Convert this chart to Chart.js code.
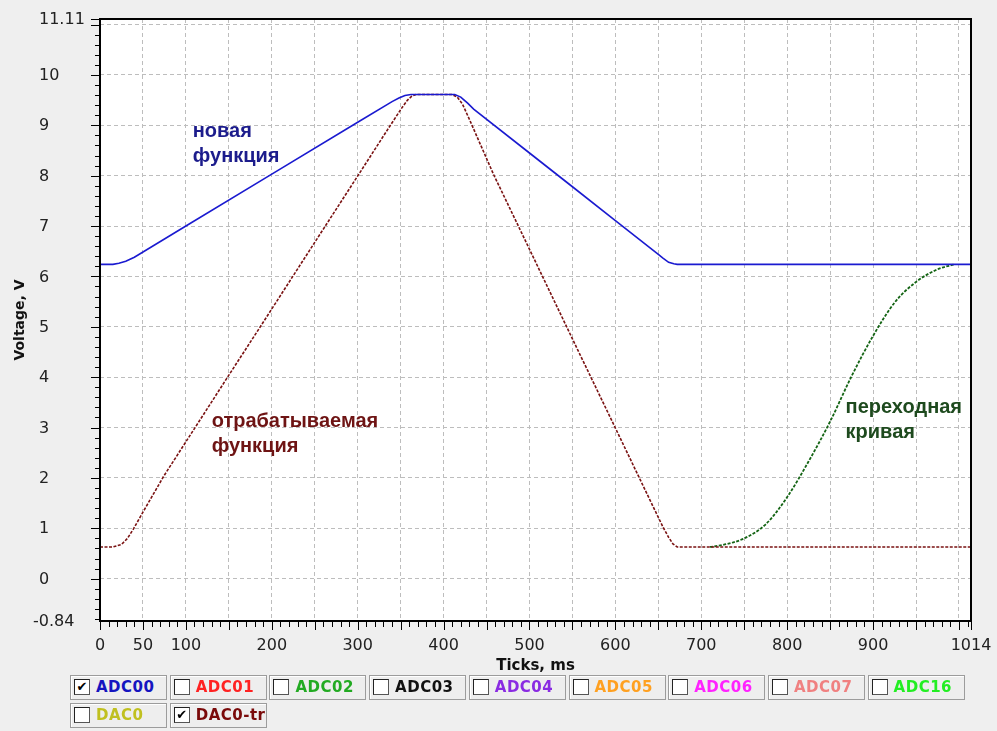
<!DOCTYPE html>
<html lang="ru">
<head>
<meta charset="UTF-8">
<title>Ticks / Voltage</title>
<script src="https://cdn.jsdelivr.net/npm/chart.js"></script>
<style>
    body {
        margin: 0;
        background-color: #efefef;
        font-family: "DejaVu Sans", sans-serif;
    }
    .chart-box {
        position: absolute;
        left: 0;
        top: 0;
        width: 997px;
        height: 680px;
    }
    .legend {
        position: absolute;
        left: 70px;
        top: 675px;
        width: 910px;
    }
    .legend-item {
        position: absolute;
        width: 95px;
        height: 23px;
        border: 1px solid #9c9c9c;
        box-shadow: inset 1px 1px 0 #ffffff;
        background-color: #eeeeee;
        font-weight: bold;
        font-size: 15px;
        line-height: 23px;
        letter-spacing: 0.5px;
        box-sizing: content-box;
    }
    .legend-item .box {
        position: absolute;
        left: 3px;
        top: 3px;
        width: 14px;
        height: 14px;
        background: #fff;
        border: 1px solid #555;
        border-top-color: #222;
        border-left-color: #222;
        font-size: 13px;
        line-height: 14px;
        text-align: center;
        color: #000;
        letter-spacing: 0;
    }
    .legend-item .txt {
        position: absolute;
        left: 25px;
        top: 0;
    }
</style>
</head>
<body>
<div class="chart-box"><canvas id="chart" width="997" height="680"></canvas></div>
<div class="legend" id="legend"></div>

<script>
// --- data (ms, V) ---
const newFuncT = [0, 15, 22, 30, 40, 100, 200, 300, 340, 348, 355, 362, 413, 420, 428, 435, 500, 550, 600, 650, 655, 662, 668, 672, 1014];
const newFuncV = [6.24, 6.24, 6.26, 6.30, 6.38, 7.00, 8.03, 9.06, 9.47, 9.54, 9.59, 9.61, 9.61, 9.56, 9.44, 9.32, 8.45, 7.78, 7.11, 6.44, 6.37, 6.28, 6.25, 6.24, 6.24];

const workFuncT = [0, 15, 25, 32, 39, 50, 74, 116, 150, 190, 221, 260, 301, 335, 345, 352, 358, 363, 368, 410, 416, 422, 430, 458, 489, 550, 600, 640, 655, 662, 667, 672, 1014];
const workFuncV = [0.63, 0.63, 0.68, 0.80, 0.99, 1.32, 2.03, 3.14, 4.04, 5.09, 5.91, 6.94, 8.02, 8.92, 9.18, 9.36, 9.50, 9.58, 9.61, 9.61, 9.56, 9.42, 9.12, 8.03, 6.93, 4.76, 2.99, 1.57, 1.04, 0.82, 0.69, 0.63, 0.63];

const stepT = [710, 725, 750, 775, 800, 825, 850, 875, 900, 925, 950, 975, 995];
const stepV = [0.63, 0.67, 0.80, 1.08, 1.62, 2.33, 3.12, 4.02, 4.82, 5.48, 5.89, 6.14, 6.24];

// axis ticks
const xMin = 0, xMax = 1014;
const yMin = -0.84, yMax = 11.11;
const xGridStep = 50;
const xLabels = [0, 50, 100, 200, 300, 400, 500, 600, 700, 800, 900, 1014];
const yLabels = [-0.84, 0, 1, 2, 3, 4, 5, 6, 7, 8, 9, 10, 11.11];

// legend
const legendNames = ['ADC00', 'ADC01', 'ADC02', 'ADC03', 'ADC04', 'ADC05', 'ADC06', 'ADC07', 'ADC16', 'DAC0', 'DAC0-tr'];
const legendColors = ['#1515c0', '#ff2222', '#22aa22', '#111111', '#8a2be2', '#ffa020', '#ff22ff', '#f08080', '#22ee22', '#c0c020', '#7a0a0a'];
const legendChecked = [true, false, false, false, false, false, false, false, false, false, true];

// annotations
const notes = [
    { lines: ['новая', 'функция'], x: 108, y: 8.88, color: '#1c1c8c' },
    { lines: ['отрабатываемая', 'функция'], x: 130, y: 3.12, color: '#6e1414' },
    { lines: ['переходная', 'кривая'], x: 868, y: 3.40, color: '#1e4a1e' }
];

function pts(t, v) {
    return t.map((x, i) => ({ x: x, y: v[i] }));
}

const xGrid = [];
for (let v = xMin; v <= 1000; v += xGridStep) xGrid.push(v);
xGrid.push(xMax);
const yGrid = [yMin];
for (let v = 0; v <= 11; v++) yGrid.push(v);
yGrid.push(yMax);

// white plot area
const plotBg = {
    id: 'plotBg',
    beforeDraw(chart) {
        const a = chart.chartArea, ctx = chart.ctx;
        ctx.save();
        ctx.fillStyle = '#ffffff';
        ctx.fillRect(a.left, a.top, a.right - a.left, a.bottom - a.top);
        ctx.restore();
    }
};

// frame, tick marks and y labels
const frameTicks = {
    id: 'frameTicks',
    afterDraw(chart) {
        const a = chart.chartArea, ctx = chart.ctx;
        const xs = chart.scales.x, ys = chart.scales.y;
        ctx.save();
        ctx.strokeStyle = '#000';
        ctx.lineWidth = 1;
        ctx.beginPath();
        for (let v = 0; v <= 1010; v += 10) {
            const px = Math.round(xs.getPixelForValue(v)) + 0.5;
            const len = v % 50 === 0 ? 9 : 6;
            ctx.moveTo(px, a.bottom);
            ctx.lineTo(px, a.bottom + len);
        }
        let px = Math.round(xs.getPixelForValue(xMax)) + 0.5;
        ctx.moveTo(px, a.bottom);
        ctx.lineTo(px, a.bottom + 9);
        for (let k = -4; k <= 55; k++) {
            const v = k / 5;
            const py = Math.round(ys.getPixelForValue(v)) + 0.5;
            const len = k % 5 === 0 ? 9 : 5;
            ctx.moveTo(a.left, py);
            ctx.lineTo(a.left - len, py);
        }
        const pyTop = Math.round(ys.getPixelForValue(yMax)) + 0.5;
        ctx.moveTo(a.left, pyTop);
        ctx.lineTo(a.left - 9, pyTop);
        ctx.stroke();
        ctx.lineWidth = 2;
        ctx.strokeRect(a.left, a.top, a.right - a.left, a.bottom - a.top);

        ctx.fillStyle = '#222';
        ctx.font = '16px "DejaVu Sans"';
        ctx.textAlign = 'left';
        ctx.textBaseline = 'middle';
        yLabels.forEach(v => {
            const x = v < 0 ? 33 : 39;
            ctx.fillText(String(v), x, ys.getPixelForValue(v) + 1);
        });
        ctx.restore();
    }
};

// text notes on the plot
const notesPlugin = {
    id: 'notes',
    afterDatasetsDraw(chart) {
        const ctx = chart.ctx;
        const xs = chart.scales.x, ys = chart.scales.y;
        ctx.save();
        ctx.font = 'bold 20px "Liberation Sans", Arial, sans-serif';
        ctx.textBaseline = 'middle';
        ctx.textAlign = 'left';
        notes.forEach(n => {
            ctx.fillStyle = n.color;
            const x = xs.getPixelForValue(n.x);
            const y = ys.getPixelForValue(n.y);
            n.lines.forEach((s, i) => ctx.fillText(s, x, y + i * 25));
        });
        ctx.restore();
    }
};

const tickFont = { family: 'DejaVu Sans', size: 16 };

new Chart(document.getElementById('chart').getContext('2d'), {
    type: 'line',
    data: {
        datasets: [
            {
                label: 'ADC00',
                data: pts(newFuncT, newFuncV),
                borderColor: '#1a1ad0',
                borderWidth: 1.6,
                pointRadius: 0,
                tension: 0
            },
            {
                label: 'DAC0-tr',
                data: pts(workFuncT, workFuncV),
                borderColor: '#7a1212',
                borderWidth: 1.6,
                borderDash: [3, 1.5],
                pointRadius: 0,
                tension: 0
            },
            {
                label: 'step',
                data: pts(stepT, stepV),
                borderColor: '#146414',
                borderWidth: 1.8,
                borderDash: [3, 1.5],
                pointRadius: 0,
                cubicInterpolationMode: 'monotone'
            }
        ]
    },
    options: {
        responsive: false,
        animation: false,
        layout: { padding: { left: 0, right: 26, top: 19, bottom: 0 } },
        plugins: {
            legend: { display: false },
            tooltip: { enabled: false }
        },
        scales: {
            x: {
                type: 'linear',
                min: xMin,
                max: xMax,
                afterBuildTicks: s => { s.ticks = xGrid.map(v => ({ value: v })); },
                afterFit: s => { s.height = 59; s.paddingRight = 0; s.paddingLeft = 0; },
                ticks: {
                    autoSkip: false,
                    maxRotation: 0,
                    padding: 15,
                    color: '#222',
                    font: tickFont,
                    callback: v => xLabels.includes(v) ? String(v) : ''
                },
                grid: { color: '#bdbdbd', lineWidth: 1, drawTicks: false },
                border: { display: false, dash: [4, 3] },
                title: {
                    display: true,
                    text: 'Ticks, ms',
                    color: '#111',
                    font: { family: 'DejaVu Sans', size: 15, weight: 'bold' },
                    padding: { top: 0, bottom: 5 }
                }
            },
            y: {
                type: 'linear',
                min: yMin,
                max: yMax,
                afterBuildTicks: s => { s.ticks = yGrid.map(v => ({ value: v })); },
                afterFit: s => { s.width = 100; s.paddingTop = 0; s.paddingBottom = 0; },
                ticks: { display: false },
                grid: { color: '#bdbdbd', lineWidth: 1, drawTicks: false },
                border: { display: false, dash: [4, 3] },
                title: {
                    display: true,
                    text: 'Voltage, V',
                    color: '#111',
                    font: { family: 'DejaVu Sans', size: 14, weight: 'bold' },
                    padding: { top: 12, bottom: 0 }
                }
            }
        }
    },
    plugins: [plotBg, frameTicks, notesPlugin]
});

// checkbox legend under the chart
const legend = document.getElementById('legend');
legendNames.forEach((name, i) => {
    const row = i < 9 ? 0 : 1;
    const col = i < 9 ? i : i - 9;
    const item = document.createElement('div');
    item.className = 'legend-item';
    item.style.left = (col * 99.7) + 'px';
    item.style.top = (row * 28) + 'px';
    item.innerHTML = '<span class="box">' + (legendChecked[i] ? '✔' : '') + '</span>' +
        '<span class="txt" style="color:' + legendColors[i] + '">' + name + '</span>';
    legend.appendChild(item);
});
</script>
</body>
</html>
